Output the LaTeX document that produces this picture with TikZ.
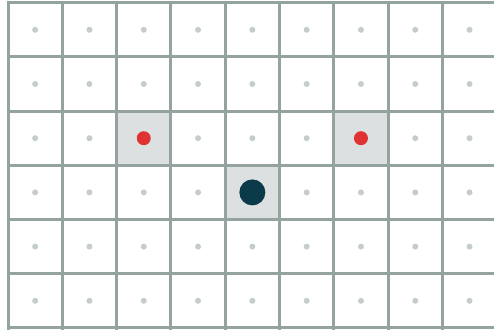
\documentclass[tikz,border=0pt]{standalone}
\definecolor{gridline}{HTML}{95A3A0}
\definecolor{cellfill}{HTML}{DDE0E1}
\definecolor{smalldot}{HTML}{C5CDCC}
\definecolor{reddot}{HTML}{E03232}
\definecolor{darkdot}{HTML}{0B3A48}
\begin{document}
\begin{tikzpicture}[x=1pt,y=-1pt,
  gridstroke/.style={draw=gridline,line width=3pt},
  hicell/.style={fill=cellfill},
  minordot/.style={fill=smalldot},
  markdot/.style={fill=reddot},
  centerdot/.style={fill=darkdot}]
\useasboundingbox (0,0) rectangle (494,329);
\fill[white] (0,0) rectangle (494,329);
\begin{scope}
\clip (0,0) rectangle (494,329);
\def\gx{54.3}\def\gy{54.2}\def\ox{8}\def\oy{2.7}
% highlighted cells
\fill[hicell] (\ox+2*\gx,\oy+2*\gy) rectangle ++(\gx,\gy);
\fill[hicell] (\ox+6*\gx,\oy+2*\gy) rectangle ++(\gx,\gy);
\fill[hicell] (\ox+4*\gx,\oy+3*\gy) rectangle ++(\gx,\gy);
% grid
\foreach \i in {0,...,9} \draw[gridstroke] (\ox+\i*\gx,\oy-2) -- (\ox+\i*\gx,\oy+6*\gy+2);
\foreach \j in {0,...,6} \draw[gridstroke] (\ox-1.5,\oy+\j*\gy) -- (500,\oy+\j*\gy);
% small dots
\foreach \i in {0,...,8} \foreach \j in {0,...,5}
  \fill[minordot] (\ox+\i*\gx+0.5*\gx,\oy+\j*\gy+0.5*\gy) circle (3);
% markers
\fill[markdot] (\ox+2.5*\gx,\oy+2.5*\gy) circle (7);
\fill[markdot] (\ox+6.5*\gx,\oy+2.5*\gy) circle (7);
\fill[centerdot] (\ox+4.5*\gx,\oy+3.5*\gy) circle (13);
\end{scope}
\end{tikzpicture}
\end{document}
